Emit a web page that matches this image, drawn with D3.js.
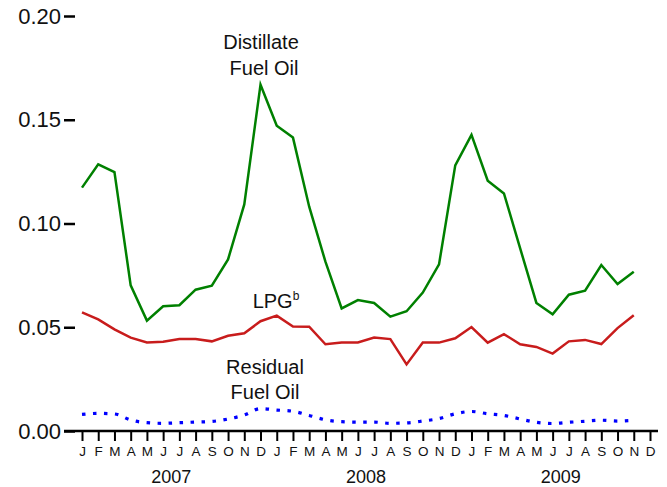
<!DOCTYPE html>
<html>
<head>
<meta charset="utf-8">
<script src="https://cdn.jsdelivr.net/npm/d3@7"></script>
<style>
  html, body { margin: 0; padding: 0; background: #fff; }
  svg { display: block; font-family: "Liberation Sans", Arial, Helvetica, sans-serif; }
</style>
</head>
<body>
<svg id="chart" width="667" height="487"></svg>
<script>
// ---- Data (Jan 2007 .. Nov 2009) ----
const monthLetters = ["J","F","M","A","M","J","J","A","S","O","N","D"];
const years = ["2007", "2008", "2009"];
const yTicks = [0.00, 0.05, 0.10, 0.15, 0.20];

const distillate = [
  0.1173, 0.1285, 0.1248, 0.0702, 0.0532, 0.0601, 0.0606, 0.0681, 0.0700, 0.0827, 0.1092, 0.1669,
  0.1471, 0.1414, 0.1081, 0.0816, 0.0591, 0.0631, 0.0617, 0.0551, 0.0577, 0.0667, 0.0803, 0.1280,
  0.1427, 0.1206, 0.1145, 0.0880, 0.0617, 0.0562, 0.0657, 0.0676, 0.0800, 0.0708, 0.0768
];
const lpg = [
  0.0572, 0.0538, 0.0490, 0.0450, 0.0427, 0.0430, 0.0443, 0.0443, 0.0432, 0.0459, 0.0471, 0.0529,
  0.0556, 0.0504, 0.0503, 0.0418, 0.0427, 0.0427, 0.0450, 0.0443, 0.0321, 0.0426, 0.0426, 0.0447,
  0.0501, 0.0426, 0.0467, 0.0418, 0.0405, 0.0373, 0.0432, 0.0439, 0.0419, 0.0496, 0.0558
];
const residual = [
  0.0080, 0.0085, 0.0082, 0.0053, 0.0040, 0.0037, 0.0040, 0.0043, 0.0046, 0.0058, 0.0077, 0.0108,
  0.0101, 0.0095, 0.0075, 0.0054, 0.0045, 0.0043, 0.0043, 0.0037, 0.0039, 0.0048, 0.0060, 0.0083,
  0.0094, 0.0083, 0.0075, 0.0058, 0.0042, 0.0036, 0.0042, 0.0047, 0.0052, 0.0048, 0.0052
];

// ---- Layout ----
const svg = d3.select("#chart");
const nMonths = years.length * 12;
const x = d3.scaleLinear().domain([0, nMonths - 1]).range([82, 650]);
const y = d3.scaleLinear().domain([0, 0.20]).range([431, 16]);

// X axis
const xAxisG = svg.append("g").attr("transform", `translate(0,${y(0)})`)
  .call(d3.axisBottom(x)
    .tickValues(d3.range(nMonths))
    .tickFormat(i => monthLetters[i % 12])
    .tickSize(10)
    .tickSizeOuter(0)
    .tickPadding(5));
xAxisG.select(".domain").remove();
xAxisG.selectAll(".tick line").attr("stroke", "#000").attr("stroke-width", 2);
xAxisG.selectAll(".tick text").attr("font-size", 13.5).attr("fill", "#111")
  .attr("font-family", "Liberation Sans, Arial, sans-serif");
// baseline line
svg.append("line")
  .attr("x1", 64).attr("x2", 658)
  .attr("y1", y(0)).attr("y2", y(0))
  .attr("stroke", "#000").attr("stroke-width", 2.5);

// Year labels
svg.selectAll("text.year").data(years).enter().append("text")
  .attr("class", "year")
  .attr("x", (d, k) => (x(k * 12) + x(k * 12 + 11)) / 2)
  .attr("y", 483)
  .attr("text-anchor", "middle")
  .attr("font-size", 18)
  .attr("fill", "#111")
  .text(d => d);

// Y axis
const yAxisG = svg.append("g").attr("transform", "translate(75,0)")
  .call(d3.axisLeft(y)
    .tickValues(yTicks)
    .tickFormat(d3.format(".2f"))
    .tickSize(11)
    .tickPadding(3));
yAxisG.select(".domain").remove();
yAxisG.selectAll(".tick line").attr("stroke", "#000").attr("stroke-width", 2.5);
yAxisG.selectAll(".tick text").attr("font-size", 22).attr("fill", "#111")
  .attr("font-family", "Liberation Sans, Arial, sans-serif");

// Lines
const line = d3.line().x((d, i) => x(i)).y(d => y(d));
svg.append("path").datum(distillate)
  .attr("fill", "none").attr("stroke", "#008000").attr("stroke-width", 2.5)
  .attr("stroke-linejoin", "miter").attr("d", line);
svg.append("path").datum(lpg)
  .attr("fill", "none").attr("stroke", "#c81c1c").attr("stroke-width", 2.5)
  .attr("d", line);
const smoothLine = d3.line().x((d, i) => x(i)).y(d => y(d)).curve(d3.curveMonotoneX);
svg.append("path").datum(residual)
  .attr("fill", "none").attr("stroke", "#0000ff").attr("stroke-width", 3.2)
  .attr("stroke-dasharray", "3.5,7.5").attr("d", smoothLine);

// Annotations
const ann = svg.append("g").attr("font-size", 20).attr("fill", "#111").attr("text-anchor", "middle");
ann.append("text").attr("x", 261).attr("y", 48.5).text("Distillate");
ann.append("text").attr("x", 264).attr("y", 74.5).text("Fuel Oil");
const lpgT = ann.append("text").attr("x", 276).attr("y", 307.5);
lpgT.append("tspan").text("LPG");
lpgT.append("tspan").attr("font-size", 12).attr("dy", -8).text("b");
ann.append("text").attr("x", 265).attr("y", 374).text("Residual");
ann.append("text").attr("x", 265).attr("y", 399).text("Fuel Oil");
</script>
</body>
</html>
